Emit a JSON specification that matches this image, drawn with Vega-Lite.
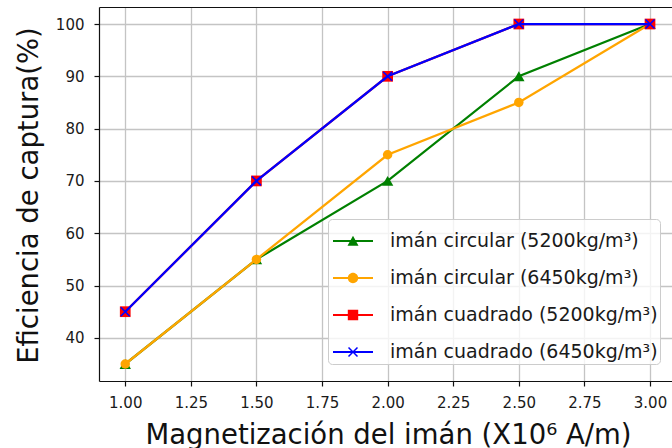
{
  "$schema": "https://vega.github.io/schema/vega-lite/v6.json",
  "width": 573,
  "height": 374,
  "autosize": "none",
  "padding": {"left": 99, "top": 7, "right": 0, "bottom": 67},
  "background": "white",
  "config": {
    "view": {"stroke": null},
    "font": "DejaVu Sans",
    "axis": {
      "labelFont": "DejaVu Sans",
      "labelFontSize": 15,
      "labelColor": "#1a1a1a",
      "titleFont": "DejaVu Sans",
      "titleFontSize": 27.5,
      "titleFontWeight": "normal",
      "titleColor": "#111111",
      "domainColor": "#111111",
      "domainWidth": 1.2,
      "tickColor": "#111111",
      "tickWidth": 1.2,
      "tickSize": 5,
      "gridColor": "#c4c4c4",
      "gridWidth": 1.3
    }
  },
  "data": {
    "values": [
      {"magnetizacion": 1.0, "eficiencia": 35, "serie": "imán circular (5200kg/m³)"},
      {"magnetizacion": 1.5, "eficiencia": 55, "serie": "imán circular (5200kg/m³)"},
      {"magnetizacion": 2.0, "eficiencia": 70, "serie": "imán circular (5200kg/m³)"},
      {"magnetizacion": 2.5, "eficiencia": 90, "serie": "imán circular (5200kg/m³)"},
      {"magnetizacion": 3.0, "eficiencia": 100, "serie": "imán circular (5200kg/m³)"},
      {"magnetizacion": 1.0, "eficiencia": 35, "serie": "imán circular (6450kg/m³)"},
      {"magnetizacion": 1.5, "eficiencia": 55, "serie": "imán circular (6450kg/m³)"},
      {"magnetizacion": 2.0, "eficiencia": 75, "serie": "imán circular (6450kg/m³)"},
      {"magnetizacion": 2.5, "eficiencia": 85, "serie": "imán circular (6450kg/m³)"},
      {"magnetizacion": 3.0, "eficiencia": 100, "serie": "imán circular (6450kg/m³)"},
      {"magnetizacion": 1.0, "eficiencia": 45, "serie": "imán cuadrado (5200kg/m³)"},
      {"magnetizacion": 1.5, "eficiencia": 70, "serie": "imán cuadrado (5200kg/m³)"},
      {"magnetizacion": 2.0, "eficiencia": 90, "serie": "imán cuadrado (5200kg/m³)"},
      {"magnetizacion": 2.5, "eficiencia": 100, "serie": "imán cuadrado (5200kg/m³)"},
      {"magnetizacion": 3.0, "eficiencia": 100, "serie": "imán cuadrado (5200kg/m³)"},
      {"magnetizacion": 1.0, "eficiencia": 45, "serie": "imán cuadrado (6450kg/m³)"},
      {"magnetizacion": 1.5, "eficiencia": 70, "serie": "imán cuadrado (6450kg/m³)"},
      {"magnetizacion": 2.0, "eficiencia": 90, "serie": "imán cuadrado (6450kg/m³)"},
      {"magnetizacion": 2.5, "eficiencia": 100, "serie": "imán cuadrado (6450kg/m³)"},
      {"magnetizacion": 3.0, "eficiencia": 100, "serie": "imán cuadrado (6450kg/m³)"}
    ]
  },
  "encoding": {
    "x": {
      "field": "magnetizacion",
      "type": "quantitative",
      "scale": {"domain": [0.9, 3.0838], "nice": false, "zero": false},
      "axis": null
    },
    "y": {
      "field": "eficiencia",
      "type": "quantitative",
      "scale": {"domain": [31.75, 103.25], "nice": false, "zero": false},
      "axis": {
        "values": [40, 50, 60, 70, 80, 90, 100],
        "grid": true,
        "labelPadding": 10,
        "title": "Eficiencia de captura(%)",
        "titleAngle": 270,
        "titleX": -62,
        "titleY": 188,
        "titleAlign": "center",
        "titleBaseline": "alphabetic"
      }
    },
    "color": {
      "field": "serie",
      "type": "nominal",
      "scale": {
        "domain": [
          "imán circular (5200kg/m³)",
          "imán circular (6450kg/m³)",
          "imán cuadrado (5200kg/m³)",
          "imán cuadrado (6450kg/m³)"
        ],
        "range": ["#008000", "#ffa500", "#ff0000", "#0000ff"]
      },
      "legend": {
        "title": null,
        "orient": "none",
        "legendX": 229,
        "legendY": 212,
        "padding": 2,
        "symbolOffset": 3,
        "symbolSize": 1600,
        "symbolType": "circle",
        "rowPadding": 7,
        "labelOffset": 17,
        "labelFont": "DejaVu Sans",
        "labelFontSize": 19,
        "labelColor": "#1a1a1a",
        "labelLimit": 400,
        "fillColor": "rgba(255,255,255,0.8)",
        "strokeColor": "#cccccc",
        "cornerRadius": 4,
        "encode": {
          "symbols": {
            "update": {
              "shape": {
                "signal": "['M-1,-0.055H1V0.055H-1Z M0,-0.26L0.275,0.24L-0.275,0.24Z', 'M-1,-0.055H1V0.055H-1Z M-0.26,0A0.26,0.26 0 1,1 0.26,0A0.26,0.26 0 1,1 -0.26,0Z', 'M-1,-0.055H1V0.055H-1Z M-0.26,-0.26H0.26V0.26H-0.26Z', 'M-1,-0.055H1V0.055H-1Z M0.198,-0.251L0.251,-0.198L0.053,0L0.251,0.198L0.198,0.251L0,0.053L-0.198,0.251L-0.251,0.198L-0.053,0L-0.251,-0.198L-0.198,-0.251L0,-0.053Z'][datum.index]"
              },
              "fill": {"signal": "scale('color', datum.value)"},
              "stroke": {"value": "transparent"},
              "strokeWidth": {"value": 0},
              "opacity": {"value": 1},
              "fillOpacity": {"value": 1}
            }
          }
        }
      }
    }
  },
  "resolve": {"axis": {"x": "independent"}},
  "layer": [
    {
      "transform": [{"filter": {"field": "serie", "equal": "imán circular (5200kg/m³)"}}],
      "mark": {"type": "line", "strokeWidth": 2.25},
      "encoding": {
        "x": {
          "field": "magnetizacion",
          "type": "quantitative",
          "scale": {"domain": [0.9, 3.0838], "nice": false, "zero": false},
          "axis": {
            "orient": "bottom",
            "values": [1, 1.25, 1.5, 1.75, 2, 2.25, 2.5, 2.75, 3],
            "format": ".2f",
            "grid": true,
            "labelPadding": 9,
            "title": "Magnetización del imán (X10⁶ A/m)",
            "titleX": 289,
            "titleY": 62,
            "titleAlign": "center",
            "titleBaseline": "alphabetic"
          }
        }
      }
    },
    {
      "transform": [{"filter": {"field": "serie", "equal": "imán circular (5200kg/m³)"}}],
      "mark": {"type": "point", "shape": "triangle-up", "filled": true, "size": 130, "opacity": 1},
      "encoding": {
        "x": {
          "field": "magnetizacion",
          "type": "quantitative",
          "scale": {"domain": [0.9, 3.0838], "nice": false, "zero": false},
          "axis": {
            "orient": "top",
            "labels": false,
            "ticks": false,
            "grid": false,
            "domain": true,
            "title": null
          }
        }
      }
    },
    {
      "transform": [{"filter": {"field": "serie", "equal": "imán circular (6450kg/m³)"}}],
      "mark": {"type": "line", "strokeWidth": 2.25}
    },
    {
      "transform": [{"filter": {"field": "serie", "equal": "imán circular (6450kg/m³)"}}],
      "mark": {"type": "point", "shape": "circle", "filled": true, "size": 90, "opacity": 1}
    },
    {
      "transform": [{"filter": {"field": "serie", "equal": "imán cuadrado (5200kg/m³)"}}],
      "mark": {"type": "line", "strokeWidth": 2.25}
    },
    {
      "transform": [{"filter": {"field": "serie", "equal": "imán cuadrado (5200kg/m³)"}}],
      "mark": {"type": "point", "shape": "square", "filled": true, "size": 115, "opacity": 1}
    },
    {
      "transform": [{"filter": {"field": "serie", "equal": "imán cuadrado (6450kg/m³)"}}],
      "mark": {"type": "line", "strokeWidth": 2.25}
    },
    {
      "transform": [{"filter": {"field": "serie", "equal": "imán cuadrado (6450kg/m³)"}}],
      "mark": {"type": "point", "shape": "M-1,-1L1,1M1,-1L-1,1", "filled": false, "size": 81, "strokeWidth": 1.6, "opacity": 1}
    }
  ]
}
